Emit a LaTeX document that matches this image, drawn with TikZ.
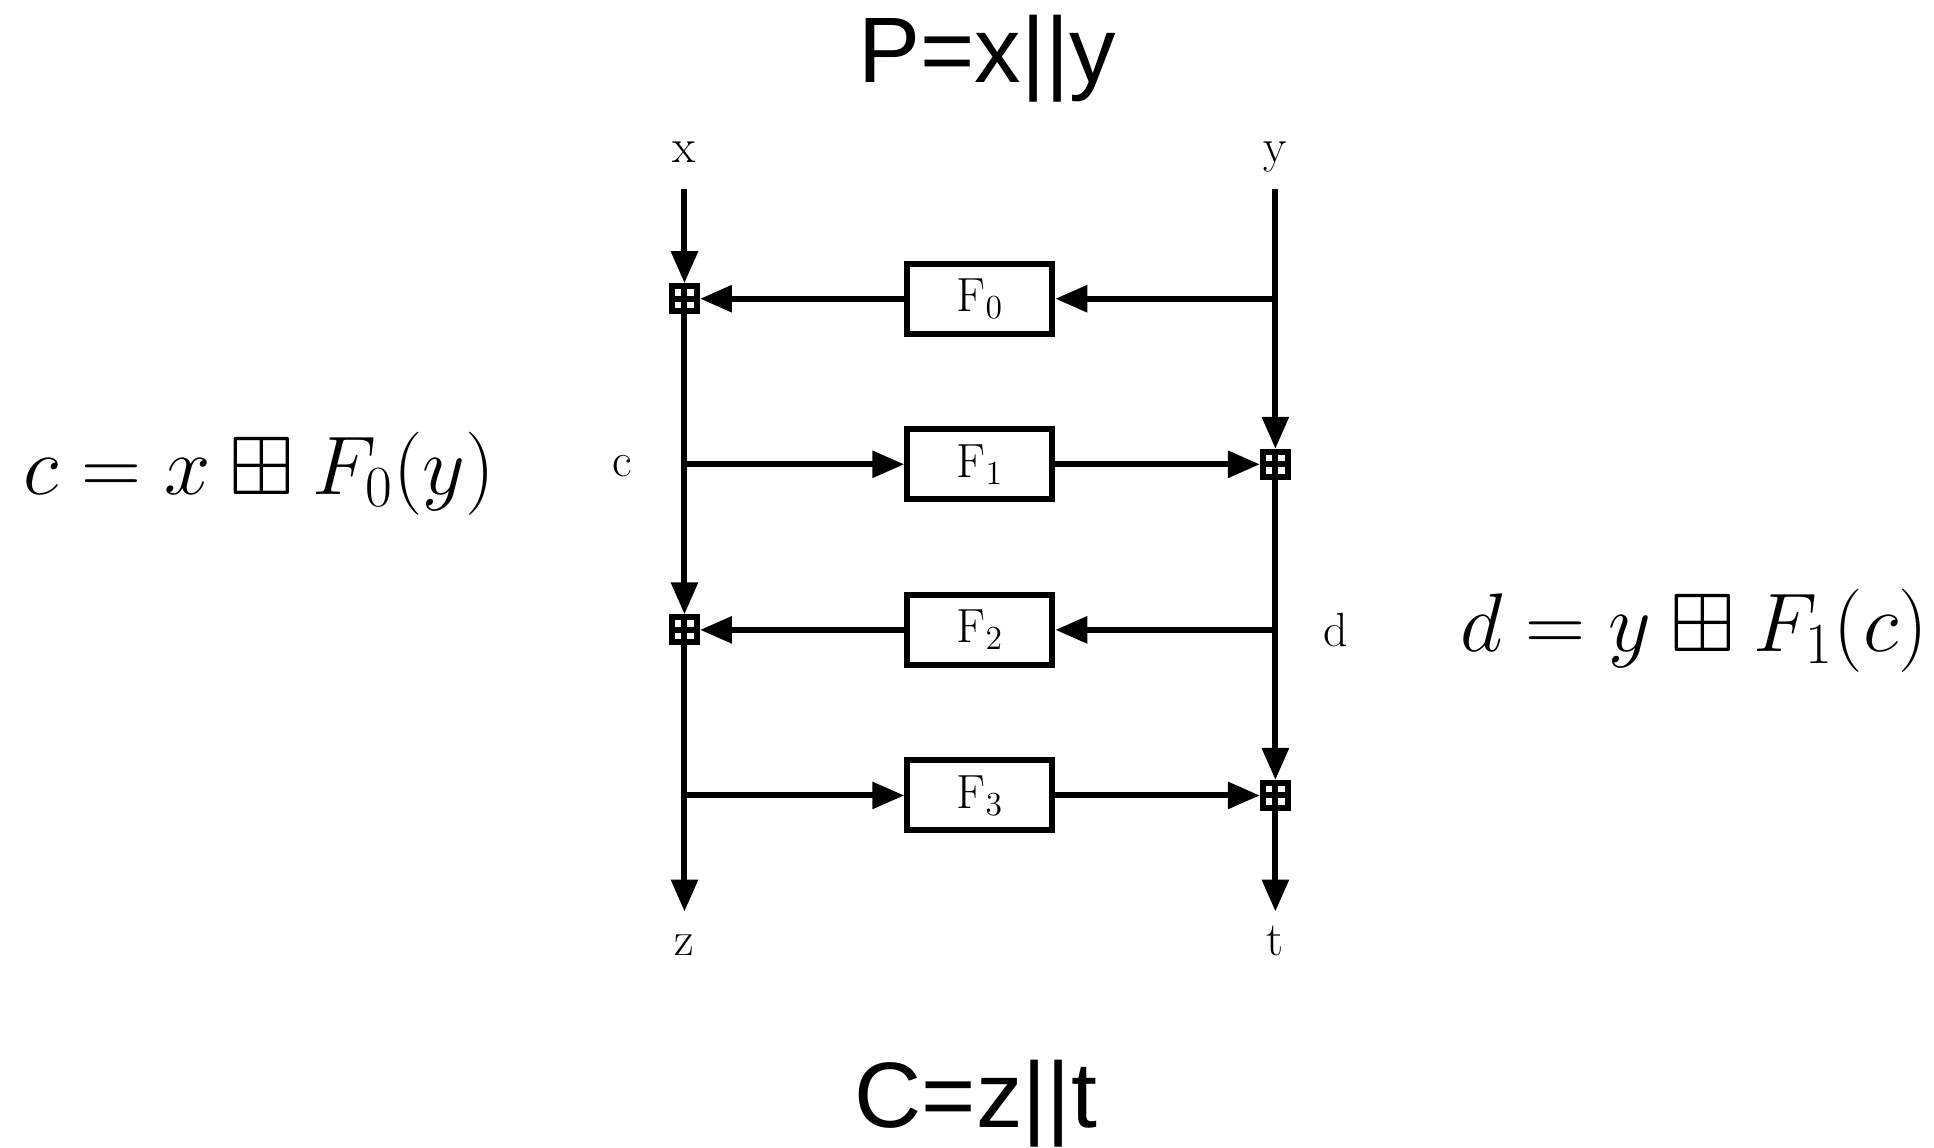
\RequirePackage{fix-cm}
\documentclass[tikz,border=0pt]{standalone}
\usepackage{amssymb}
\usepackage{fontspec}
\newfontfamily\titlefont{Liberation Sans}
\usetikzlibrary{arrows.meta,positioning}
\tikzset{
  fblock/.style={draw=black, line width=3pt, fill=white, minimum width=72.5pt, minimum height=35pt, inner sep=0pt, font=\fontsize{24}{28}\selectfont},
  mix/.style={draw=black, line width=3pt, fill=white, minimum size=12.5pt, inner sep=0pt,
    path picture={\draw[line width=3pt] (path picture bounding box.north)--(path picture bounding box.south) (path picture bounding box.west)--(path picture bounding box.east);}},
  lbl/.style={inner sep=0pt, font=\fontsize{24}{28}\selectfont},
  eqn/.style={inner sep=0pt, font=\fontsize{41.6}{50}\selectfont},
  ttl/.style={inner sep=0pt, font=\titlefont\fontsize{46.5}{56}\selectfont},
  flow/.style={-{Triangle[length=16pt, width=13pt]}, line width=3pt, draw=black},
}

\begin{document}
\begin{tikzpicture}
\useasboundingbox (-120.3mm,52.5mm) rectangle (219.6mm,-149.2mm);
\node[mix] (s0) at (0,0) {};
\node[mix] (s1) at (103.85mm,-29.1mm) {};
\node[mix] (s2) at (0,-58.2mm) {};
\node[mix] (s3) at (103.85mm,-87.3mm) {};
\node[fblock] (f0) at (51.9mm,0) {F$_0$};
\node[fblock] (f1) at (f0 |- s1) {F$_1$};
\node[fblock] (f2) at (f0 |- s2) {F$_2$};
\node[fblock] (f3) at (f0 |- s3) {F$_3$};
\coordinate (r0) at (s1 |- s0);
\coordinate (l1) at (s0 |- s1);
\coordinate (r2) at (s1 |- s2);
\coordinate (l3) at (s0 |- s3);
\coordinate (xin) at (0,19.3mm);
\coordinate (yin) at (103.85mm,19.3mm);
\coordinate (zout) at (0,-107.7mm);
\coordinate (tout) at (103.85mm,-107.7mm);
\node[lbl, anchor=base] (xl) at (0,23.9mm) {x};
\node[lbl, anchor=base] (yl) at (103.85mm,23.9mm) {y};
\node[lbl, anchor=base] (zl) at (0,-115.4mm) {z};
\node[lbl, anchor=base] (tl) at (103.85mm,-115.4mm) {t};
\node[lbl, anchor=base] (cl) at (-11mm,-31.3mm) {c};
\node[lbl, anchor=base] (dl) at (114.5mm,-61.2mm) {d};
\node[eqn, anchor=base west] (ceq) at (-116.2mm,-34.4mm) {$c = x \boxplus F_0(y)$};
\node[eqn, anchor=base west] (deq) at (136.3mm,-62mm) {$d = y \boxplus F_1(c)$};
\node[ttl, anchor=base] (pt) at (53.2mm,38mm) {P=x||y};
\node[ttl, anchor=base] (ct) at (51.2mm,-145.7mm) {C=z||t};
\draw[flow](xin)--(s0);\draw[flow](yin)--(s1);
\draw[flow](r0)--(f0);\draw[flow](f0)--(s0);
\draw[flow](l1)--(f1);\draw[flow](f1)--(s1);
\draw[flow](r2)--(f2);\draw[flow](f2)--(s2);
\draw[flow](l3)--(f3);\draw[flow](f3)--(s3);
\draw[flow](s0)--(s2);\draw[flow](s1)--(s3);
\draw[flow](s2)--(zout);\draw[flow](s3)--(tout);
\end{tikzpicture}
\end{document}
